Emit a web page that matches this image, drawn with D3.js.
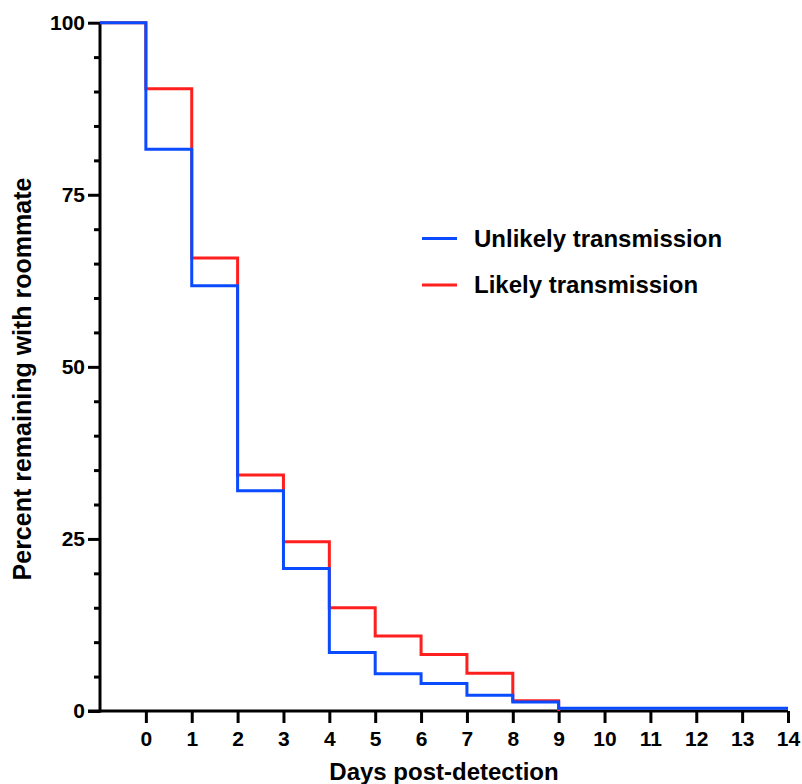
<!DOCTYPE html>
<html><head><meta charset="utf-8">
<script src="https://cdn.jsdelivr.net/npm/d3@7"></script>
<style>body{margin:0;background:#fff}svg{display:block}text{font-family:"Liberation Sans",Arial,sans-serif;font-weight:bold;fill:#000}</style>
</head><body>
<svg id="c" width="802" height="784"></svg>
<script>
const unlikelyDays   = [-1, 0, 1, 2, 3, 4, 5, 6, 7, 8, 9, 14];
const unlikelyValues = [100, 81.6, 61.8, 32.0, 20.7, 8.5, 5.4, 4.0, 2.3, 1.3, 0.4, 0.4];
const likelyDays     = [-1, 0, 1, 2, 3, 4, 5, 6, 7, 8, 9];
const likelyValues   = [100, 90.4, 65.8, 34.3, 24.6, 15.0, 10.9, 8.2, 5.5, 1.5, 0];
const xTicks = [0,1,2,3,4,5,6,7,8,9,10,11,12,13,14];
const yMajorTicks = [0, 25, 50, 75, 100];
const yMinorTicks = [5,10,15,20,30,35,40,45,55,60,65,70,80,85,90,95];
const seriesNames = ["Unlikely transmission", "Likely transmission"];
const seriesColors = ["#0b4bff", "#ff1f1f"];

const svg = d3.select("#c");
const x = d3.scaleLinear().domain([-1, 14]).range([100, 788]);
const y = d3.scaleLinear().domain([0, 100]).range([711, 22.7]);

// axes
const yAxis = svg.append("g").attr("transform", "translate(100,0)")
  .call(d3.axisLeft(y).tickValues(yMajorTicks).tickSize(12).tickPadding(3).tickFormat(d3.format("d")));
const yMinor = svg.append("g").attr("transform", "translate(100,0)")
  .call(d3.axisLeft(y).tickValues(yMinorTicks).tickSize(6).tickFormat(""));
yMinor.select(".domain").remove();
const xAxis = svg.append("g").attr("transform", "translate(0,711)")
  .call(d3.axisBottom(x).tickValues(xTicks).tickSize(12).tickPadding(8).tickSizeOuter(0).tickFormat(d3.format("d")));
svg.selectAll(".domain").attr("stroke", "#000").attr("stroke-width", 3);
svg.selectAll(".tick line").attr("stroke", "#000").attr("stroke-width", 3);
svg.selectAll(".tick text").style("font-size", "21px").style("font-family", "Liberation Sans, Arial, sans-serif").style("font-weight", "bold").attr("fill", "#000");
xAxis.select(".domain").attr("d", `M88,0H${x(14)}`);
yAxis.select(".domain").attr("d", `M0,${y(100)}V${y(0)+1.5}`);

// lines
const line = d3.line().x(d => x(d[0])).y(d => y(d[1])).curve(d3.curveStepAfter);
const likelyPts = likelyDays.map((d, i) => [d, likelyValues[i]]);
const unlikelyPts = unlikelyDays.map((d, i) => [d, unlikelyValues[i]]);
svg.append("path").attr("d", line(likelyPts)).attr("fill", "none").attr("stroke", seriesColors[1]).attr("stroke-width", 3);
svg.append("path").attr("d", line(unlikelyPts)).attr("fill", "none").attr("stroke", seriesColors[0]).attr("stroke-width", 3);

// legend
const legY = [238.5, 285];
seriesNames.forEach((name, i) => {
  svg.append("line").attr("x1", 422).attr("x2", 457).attr("y1", legY[i]).attr("y2", legY[i])
    .attr("stroke", seriesColors[i]).attr("stroke-width", 3);
  svg.append("text").attr("x", 474).attr("y", legY[i] + 8).style("font-size", "24px").text(name);
});

// axis titles
svg.append("text").attr("x", 444).attr("y", 780).attr("text-anchor", "middle").style("font-size", "24px").text("Days post-detection");
svg.append("text").attr("transform", "translate(31,379) rotate(-90)").attr("text-anchor", "middle").style("font-size", "25px").text("Percent remaining with roommate");
</script>
</body></html>
